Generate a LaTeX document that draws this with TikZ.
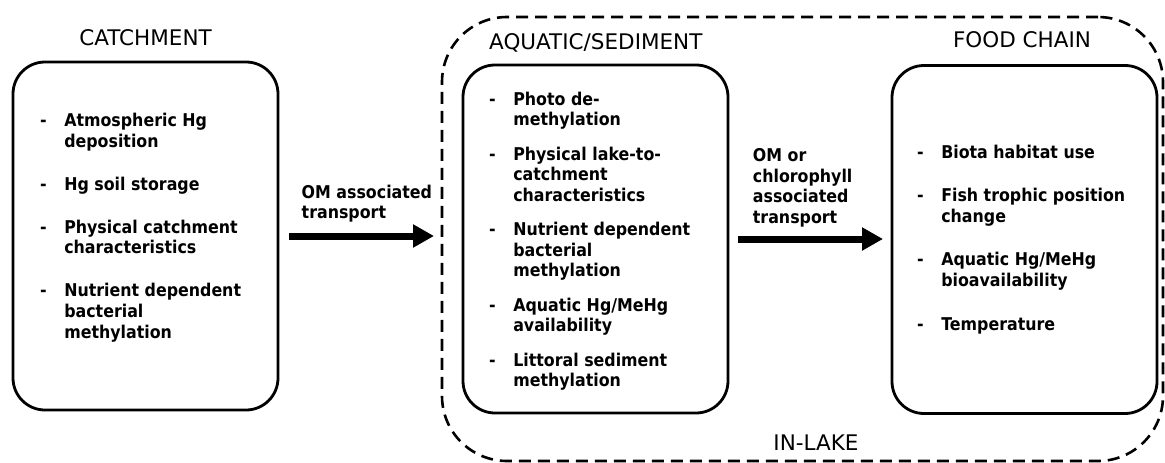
\documentclass[tikz,border=0pt]{standalone}
\usepackage{fontspec}
\setmainfont{DejaVu Sans}
\newfontfamily\itemfont[FakeStretch=0.9]{DejaVu Sans}
\usetikzlibrary{arrows.meta}

% dash list and plain stacked lines, first baseline on top
\newcommand{\dashlist}[1]{\begin{tabular}[t]{@{}l@{\hspace{17.5pt}}l@{}}#1\end{tabular}}
\newcommand{\stacklines}[1]{\begin{tabular}[t]{@{}l@{}}#1\end{tabular}}

\tikzset{
  panel/.style={draw, line width=2.8pt, rounded corners=32pt, outer sep=0pt,
    minimum width=265pt, minimum height=348pt},
  lakezone/.style={draw, line width=2.6pt, dash pattern=on 12pt off 7pt,
    rounded corners=65pt, outer sep=0pt},
  heading/.style={font=\fontsize{21.5}{26}\selectfont, inner sep=0pt},
  listtext/.style={font=\itemfont\bfseries\fontsize{17.6}{20.6}\selectfont, inner sep=0pt},
  flow/.style={line width=7pt, -{Triangle[length=21pt,width=22pt]}}
}

\begin{document}
\begin{tikzpicture}[x=1pt, y=-1pt]
  \useasboundingbox (0,0) rectangle (1165,463);

  % In-lake zone
  \node[lakezone, minimum width=721pt, minimum height=444pt] (inlake) at (802.5,239) {};
  \node[heading, anchor=base] (inlaketitle) at (816,450.7) {IN-LAKE};

  % Catchment
  \node[panel] (catch) at (145.5,236) {};
  \node[heading, anchor=base] (catchtitle) at (145.5,45) {CATCHMENT};
  \node[listtext, anchor=base west] (catchlist) at (40,126.7) {\dashlist{%
    - & Atmospheric Hg\\ & deposition\\[22.4pt]
    - & Hg soil storage\\[22.4pt]
    - & Physical catchment\\ & characteristics\\[22.4pt]
    - & Nutrient dependent\\ & bacterial\\ & methylation}};

  % Aquatic/sediment
  \node[panel] (aqua) at (595.5,239) {};
  \node[heading, anchor=base west] (aquatitle) at (489,49.3) {AQUATIC/SEDIMENT};
  \node[listtext, anchor=base west] (aqualist) at (489,105) {\dashlist{%
    - & Photo de-\\ & methylation\\[13.8pt]
    - & Physical lake-to-\\ & catchment\\ & characteristics\\[13.8pt]
    - & Nutrient dependent\\ & bacterial\\ & methylation\\[13.8pt]
    - & Aquatic Hg/MeHg\\ & availability\\[13.8pt]
    - & Littoral sediment\\ & methylation}};

  % Food chain
  \node[panel] (food) at (1024.5,239.5) {};
  \node[heading, anchor=base] (foodtitle) at (1022,47.7) {FOOD CHAIN};
  \node[listtext, anchor=base west] (foodlist) at (917,158) {\dashlist{%
    - & Biota habitat use\\[23pt]
    - & Fish trophic position\\ & change\\[23pt]
    - & Aquatic Hg/MeHg\\ & bioavailability\\[23pt]
    - & Temperature}};

  % Transport arrows
  \draw[flow, shorten <=11pt, shorten >=8pt] (catch.east) -- (catch.east -| inlake.west);
  \node[listtext, anchor=base west] (omlabel) at (301.5,198)
    {\stacklines{OM associated\\ transport}};
  \draw[flow, shorten <=10pt, shorten >=9pt] (aqua.east) -- (aqua.east -| food.west);
  \node[listtext, anchor=base west] (chllabel) at (752.7,161.7)
    {\stacklines{OM or\\ chlorophyll\\ associated\\ transport}};
\end{tikzpicture}
\end{document}
